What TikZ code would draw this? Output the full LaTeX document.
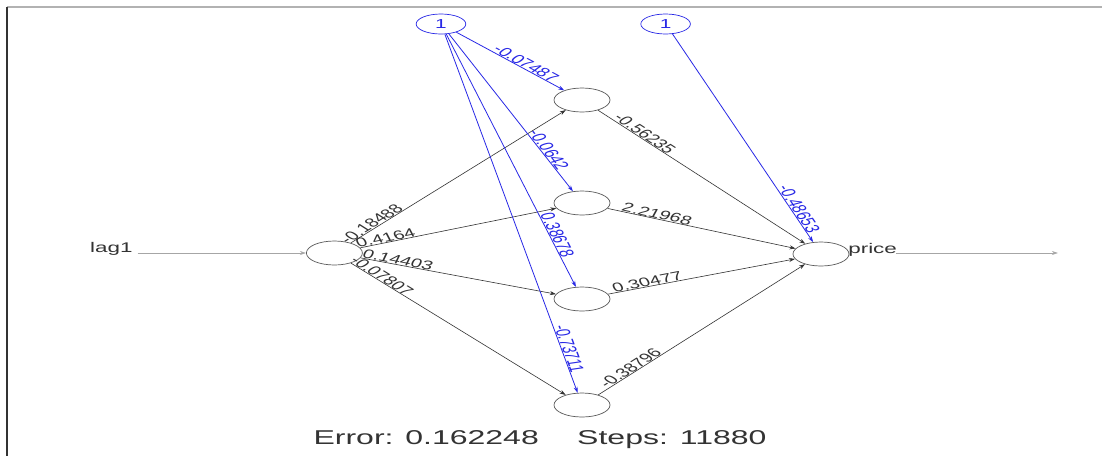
\documentclass[tikz,border=0pt]{standalone}
\usepackage{fontspec}
\setmainfont{Liberation Sans}
\usetikzlibrary{shapes.geometric,arrows.meta}
\definecolor{nblue}{RGB}{40,40,230}
\definecolor{ngray}{RGB}{90,90,90}
\tikzset{
  neuron/.style={ellipse,draw=ngray,line width=0.7pt,minimum width=35pt,minimum height=24pt,inner sep=0pt},
  biasn/.style={ellipse,draw=nblue,line width=0.7pt,minimum width=31pt,minimum height=20pt,inner sep=0pt,text=nblue,font=\fontsize{13}{13}\selectfont},
  wedge/.style={draw=black!80,line width=0.6pt,-{Stealth[length=6pt,width=4pt]}},
  bedge/.style={draw=nblue,line width=0.8pt,-{Stealth[length=6pt,width=4pt]}},
  wlab/.style={sloped,above,inner sep=0pt,font=\fontsize{12.5}{12.5}\selectfont,text=black!80},
  blab/.style={sloped,above,inner sep=0pt,font=\fontsize{12.5}{12.5}\selectfont,text=nblue},
  txt/.style={font=\fontsize{14}{14}\selectfont,text=black!80,inner sep=1pt}
}
\begin{document}
\begin{tikzpicture}[x=1pt,y=-1pt]
\useasboundingbox (0,0) rectangle (1102,456);
\fill[white] (0,0) rectangle (1102,456);
\draw[gray!60,line width=2pt] (7,7) -- (1102,7);
\draw[black!80,line width=2pt] (7,7) -- (7,456);
\begin{scope}[xscale=1.6,transform shape]
% nodes
\node[biasn] (b1) at (275.6,24) {1};
\node[biasn] (b2) at (416,24) {1};
\node[neuron] (in) at (209,253) {};
\node[neuron] (h1) at (363.75,100) {};
\node[neuron] (h2) at (363.75,203) {};
\node[neuron] (h3) at (363.75,299) {};
\node[neuron] (h4) at (363.75,405) {};
\node[neuron] (out) at (513.1,254) {};
\node[txt,anchor=east] (lag) at (84,249) {lag1};
\node[txt,anchor=west] (price) at (529,250) {price};
\coordinate (lagstart) at (86,253);
\coordinate (outstart) at (560,253);
\coordinate (outend) at (661,253);
\draw[gray!70,line width=0.6pt,-{Stealth[length=6pt,width=4pt]}] (lagstart) -- (in.west);
\draw[gray!70,line width=0.6pt,-{Stealth[length=6pt,width=4pt]}] (outstart) -- (outend);
% input to hidden
\draw[wedge] (in) -- node[wlab,pos=0.12]{-0.18488} (h1);
\draw[wedge] (in) -- node[wlab,pos=0.14]{0.4164} (h2);
\draw[wedge] (in) -- node[wlab,pos=0.18]{0.14403} (h3);
\draw[wedge] (in) -- node[wlab,pos=0.12]{-0.07807} (h4);
% hidden to output
\draw[wedge] (h1) -- node[wlab,pos=0.2]{-0.56235} (out);
\draw[wedge] (h2) -- node[wlab,pos=0.25]{2.21968} (out);
\draw[wedge] (h3) -- node[wlab,pos=0.22]{0.30477} (out);
\draw[wedge] (h4) -- node[wlab,pos=0.18]{-0.38796} (out);
% bias edges
\draw[bedge] (b1) -- node[blab,pos=0.6]{-0.07487} (h1);
\draw[bedge] (b1) -- node[blab,pos=0.75]{-0.0642} (h2);
\draw[bedge] (b1) -- node[blab,pos=0.8]{0.38678} (h3);
\draw[bedge] (b1) -- node[blab,pos=0.88]{-0.73711} (h4);
\draw[bedge] (b2) -- node[blab,pos=0.85]{-0.48653} (out);
\node[font=\fontsize{20}{20}\selectfont,text=black!80] (err) at (337.5,440) {Error: 0.162248\hspace{24pt}Steps: 11880};
\end{scope}
\end{tikzpicture}
\end{document}
